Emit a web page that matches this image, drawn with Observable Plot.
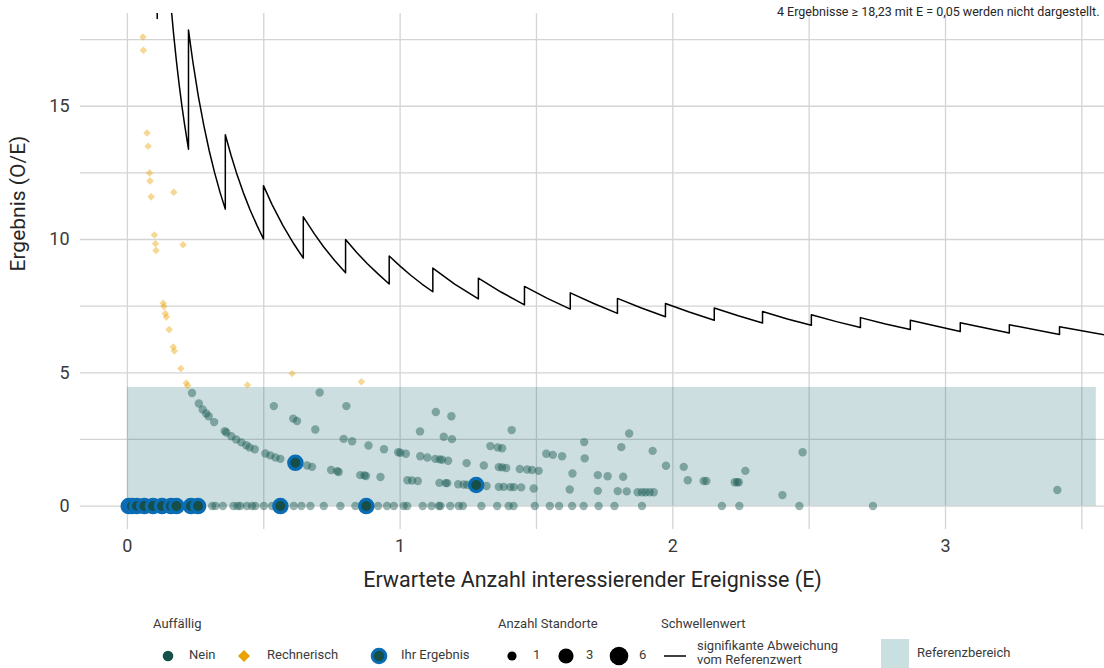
<!DOCTYPE html>
<html><head><meta charset="utf-8">
<script src="https://cdn.jsdelivr.net/npm/d3@7"></script>
<script src="https://cdn.jsdelivr.net/npm/@observablehq/plot@0.6"></script>
<style>
body{margin:0;background:#fff;font-family:Roboto,"Noto Sans",sans-serif;}
#wrap{position:relative;width:1104px;height:668px;overflow:hidden;}
#legend{position:absolute;left:0;top:600px;}
#legend text{font-family:Roboto,"Noto Sans",sans-serif;font-size:13px;fill:#3a3a3a;}
</style></head><body>
<div id="wrap"><div id="chart"></div><svg id="legend" width="1104" height="68"></svg></div>
<script>
// ---- Data ----
const xTicks = [0, 1, 2, 3];
const yTicks = [0, 5, 10, 15];
const xGrid = [0, 0.5, 1, 1.5, 2, 2.5, 3, 3.5];
const yGrid = [0, 2.5, 5, 7.5, 10, 12.5, 15, 17.5];
const xDomain = [-0.172, 3.583];
const yDomain = [-0.88, 18.48];
const refBandE = [0, 3.553];
const refBandOE = [0, 4.45];
const note = "4 Ergebnisse \u2265 18,23 mit E = 0,05 werden nicht dargestellt.";
const xTitle = "Erwartete Anzahl interessierender Ereignisse (E)";
const yTitle = "Ergebnis (O/E)";

// Schwellenwert (signifikante Abweichung vom Referenzwert): [E, O/E]
const schwelle = [
  [0.1093,18.29],[0.1093,27.4],[0.12,25.0],[0.13,23.1],[0.14,21.43],[0.15,20.0],[0.16,18.75],[0.17,17.65],
  [0.18,16.67],[0.19,15.79],[0.20,15.0],[0.21,14.29],[0.224,13.39],
  [0.224,17.86],[0.24,16.67],[0.26,15.38],[0.28,14.29],[0.30,13.33],[0.32,12.5],[0.34,11.76],[0.359,11.14],
  [0.359,13.93],[0.38,13.16],[0.40,12.5],[0.425,11.76],[0.45,11.11],[0.475,10.53],[0.499,10.02],
  [0.499,12.02],[0.53,11.32],[0.57,10.53],[0.61,9.84],[0.645,9.30],
  [0.645,10.85],[0.685,10.22],[0.72,9.72],[0.76,9.21],[0.80,8.75],
  [0.80,10.0],[0.84,9.52],[0.88,9.09],[0.92,8.70],[0.96,8.33],
  [0.96,9.38],[1.00,9.0],[1.04,8.65],[1.08,8.33],[1.12,8.04],
  [1.12,8.93],[1.20,8.33],[1.287,7.77],
  [1.287,8.55],[1.37,8.03],[1.456,7.55],
  [1.456,8.24],[1.54,7.79],[1.624,7.39],
  [1.624,8.0],[1.71,7.60],[1.797,7.23],
  [1.797,7.79],[1.885,7.43],[1.973,7.10],
  [1.973,7.60],[2.06,7.28],[2.152,6.97],
  [2.152,7.43],[2.24,7.14],[2.329,6.87],
  [2.329,7.30],[2.42,7.02],[2.508,6.78],
  [2.508,7.18],[2.60,6.92],[2.688,6.70],
  [2.688,7.07],[2.78,6.83],[2.871,6.62],
  [2.871,6.97],[3.054,6.55],
  [3.054,6.88],[3.234,6.49],
  [3.234,6.80],[3.418,6.44],
  [3.418,6.73],[3.583,6.42]
];

// Auffällig: Nein  [E, O/E]
const nein = [
  [0.237,4.24],[0.262,3.85],[0.276,3.62],[0.289,3.47],[0.298,3.37],[0.318,3.15],[0.357,2.81],[0.363,2.76],
  [0.381,2.62],[0.399,2.50],[0.418,2.39],[0.436,2.28],[0.448,2.20],[0.467,2.13],[0.506,1.97],[0.524,1.90],
  [0.543,1.82],[0.561,1.77],[0.659,1.52],[0.677,1.47],[0.747,1.35],[0.769,1.31],[0.775,1.28],[0.854,1.16],
  [0.869,1.15],[0.875,1.13],[0.928,1.09],[1.027,0.97],[1.044,0.96],[1.065,0.94],[1.144,0.87],[1.167,0.86],
  [1.173,0.86],[1.213,0.82],[1.233,0.81],[1.246,0.80],[1.317,0.75],[1.362,0.72],[1.38,0.72],[1.404,0.71],
  [1.417,0.71],[1.444,0.70],[1.49,0.66],[1.622,0.62],[1.725,0.57],[1.798,0.56],[1.831,0.55],[1.871,0.52],
  [1.887,0.52],[1.90,0.52],[1.915,0.52],[1.93,0.52],[2.402,0.41],[3.41,0.60],
  [0.537,3.75],[0.608,3.28],[0.622,3.19],[0.689,2.87],[0.793,2.52],[0.824,2.43],[0.884,2.27],[0.941,2.13],
  [0.993,2.02],[1.001,2.00],[1.021,1.96],[1.074,1.87],[1.10,1.82],[1.129,1.77],[1.145,1.75],[1.154,1.74],
  [1.176,1.70],[1.244,1.61],[1.307,1.52],[1.362,1.46],[1.374,1.45],[1.389,1.43],[1.439,1.39],[1.466,1.37],
  [1.484,1.35],[1.508,1.32],[1.632,1.22],[1.725,1.16],[1.761,1.12],[1.818,1.10],[2.055,0.97],[2.113,0.94],
  [2.123,0.94],[2.227,0.89],[2.236,0.89],[2.242,0.89],
  [0.705,4.26],[0.803,3.75],[1.073,2.80],[1.16,2.60],[1.19,2.51],[1.331,2.25],[1.358,2.20],[1.374,2.17],
  [1.536,1.96],[1.56,1.92],[1.594,1.87],[1.677,1.79],[1.975,1.51],[2.04,1.47],[2.266,1.32],
  [1.131,3.53],[1.188,3.37],[1.409,2.85],[1.675,2.40],[1.811,2.21],[1.926,2.07],[1.84,2.72],[2.476,2.02],
  [0.205,0],[0.311,0],[0.323,0],[0.35,0],[0.389,0],[0.404,0],[0.414,0],[0.438,0],[0.457,0],[0.469,0],
  [0.50,0],[0.53,0],[0.61,0],[0.638,0],[0.671,0],[0.72,0],[0.781,0],[0.836,0],[0.919,0],[0.952,0],
  [0.977,0],[1.013,0],[1.026,0],[1.083,0],[1.115,0],[1.142,0],[1.148,0],[1.184,0],[1.215,0],[1.23,0],
  [1.298,0],[1.356,0],[1.398,0],[1.416,0],[1.494,0],[1.549,0],[1.583,0],[1.631,0],[1.673,0],[1.728,0],
  [1.786,0],[1.887,0],[2.18,0],[2.244,0],[2.464,0],[2.734,0]
];

// Auffällig: Rechnerisch  [E, O/E]
const rechnerisch = [
  [0.057,17.6],[0.0587,17.1],[0.072,14.0],[0.076,13.5],[0.081,12.5],[0.083,12.2],[0.087,11.6],[0.170,11.77],
  [0.099,10.17],[0.103,9.84],[0.105,9.59],[0.204,9.80],[0.131,7.61],[0.134,7.49],[0.139,7.22],[0.143,7.09],
  [0.153,6.62],[0.168,5.97],[0.172,5.82],[0.196,5.16],[0.216,4.62],[0.221,4.51],[0.44,4.54],[0.604,4.97],
  [0.858,4.66]
];

// Ihr Ergebnis  [E, O/E]
const ihrErgebnis = [
  [0.005,0],[0.017,0],[0.035,0],[0.062,0],[0.094,0],[0.127,0],[0.16,0],[0.18,0],[0.233,0],[0.259,0],
  [0.561,0],[0.876,0],[0.616,1.62],[1.279,0.79]
];

// ---- Chart ----
const band = [{x1: refBandE[0], x2: refBandE[1], y1: refBandOE[0], y2: refBandOE[1]}];
const chart = Plot.plot({
  width: 1104, height: 600,
  marginLeft: 80, marginRight: 0, marginTop: 13, marginBottom: 71,
  style: {fontFamily: "Roboto, 'Noto Sans', sans-serif", fontSize: "18px", color: "#3a3a3a", background: "#fff"},
  x: {domain: xDomain},
  y: {domain: yDomain},
  marks: [
    Plot.gridY(yGrid, {stroke: "#d4d4d4", strokeOpacity: 1, strokeWidth: 1.3}),
    Plot.gridX(xGrid, {stroke: "#d4d4d4", strokeOpacity: 1, strokeWidth: 1.3}),
    Plot.rect(band, {x1: "x1", x2: "x2", y1: "y1", y2: "y2", fill: "#1a6b73", fillOpacity: 0.22}),
    Plot.line(schwelle, {x: d => d[0], y: d => d[1], stroke: "#000", strokeWidth: 1.5, clip: true}),
    Plot.dot(nein, {x: d => d[0], y: d => d[1], r: 4.2, fill: "#1b5c52", fillOpacity: 0.45, stroke: "none"}),
    Plot.dot(rechnerisch, {x: d => d[0], y: d => d[1], symbol: "diamond2", r: 3.4, fill: "#e9a200", fillOpacity: 0.42, stroke: "none"}),
    Plot.dot(ihrErgebnis, {x: d => d[0], y: d => d[1], r: 6.6, fill: "#164f48", stroke: "#0a6cb4", strokeWidth: 3.3}),
    Plot.axisX(xTicks, {tickSize: 0, tickPadding: 10, label: null, fontSize: 18, tickFormat: d => String(d)}),
    Plot.axisY(yTicks, {tickSize: 0, tickPadding: 11, label: null, fontSize: 18, tickFormat: d => String(d)}),
    Plot.text([xTitle], {text: d => d, frameAnchor: "bottom", lineAnchor: "middle", dy: 51, fontSize: 21.5, fill: "#262626"}),
    Plot.text([yTitle], {text: d => d, frameAnchor: "left", lineAnchor: "middle", rotate: -90, dx: -62, fontSize: 21, fill: "#262626"}),
    Plot.text([note], {text: d => d, frameAnchor: "top-right", textAnchor: "end", lineAnchor: "middle", dx: -5, dy: -2, fontSize: 12.5, fill: "#262626"})
  ]
});
document.getElementById("chart").appendChild(chart);

// ---- Legend ----
const ns = "http://www.w3.org/2000/svg";
const lg = document.getElementById("legend");
function el(tag, attrs, txt) {
  const e = document.createElementNS(ns, tag);
  for (const k in attrs) e.setAttribute(k, attrs[k]);
  if (txt != null) e.textContent = txt;
  lg.appendChild(e);
  return e;
}
const rowY = 56, titleY = 25;
el("text", {x: 153, y: titleY, "dominant-baseline": "middle"}, "Auff\u00e4llig");
el("circle", {cx: 168, cy: rowY, r: 5.3, fill: "#15514a"});
el("text", {x: 189, y: rowY, "dominant-baseline": "middle"}, "Nein");
el("path", {d: `M244,${rowY-6}L250,${rowY}L244,${rowY+6}L238,${rowY}Z`, fill: "#e9a200"});
el("text", {x: 267, y: rowY, "dominant-baseline": "middle"}, "Rechnerisch");
el("circle", {cx: 379, cy: rowY, r: 6.8, fill: "#16504a", stroke: "#0a6cb4", "stroke-width": 3});
el("text", {x: 401, y: rowY, "dominant-baseline": "middle"}, "Ihr Ergebnis");
el("text", {x: 498, y: titleY, "dominant-baseline": "middle"}, "Anzahl Standorte");
[[512, 4.6, "1", 533], [566, 7.6, "3", 586], [619, 9.3, "6", 639]].forEach(([cx, r, t, tx]) => {
  el("circle", {cx, cy: rowY, r, fill: "#000"});
  el("text", {x: tx, y: rowY, "dominant-baseline": "middle"}, t);
});
el("text", {x: 661, y: titleY, "dominant-baseline": "middle"}, "Schwellenwert");
el("line", {x1: 664, x2: 686, y1: rowY, y2: rowY, stroke: "#000", "stroke-width": 1.5});
el("text", {x: 697, y: 47, "dominant-baseline": "middle"}, "signifikante Abweichung");
el("text", {x: 697, y: 61, "dominant-baseline": "middle"}, "vom Referenzwert");
el("rect", {x: 881, y: 39, width: 28, height: 29, fill: "#c9dfe0"});
el("text", {x: 917, y: 54, "dominant-baseline": "middle"}, "Referenzbereich");
</script></body></html>
